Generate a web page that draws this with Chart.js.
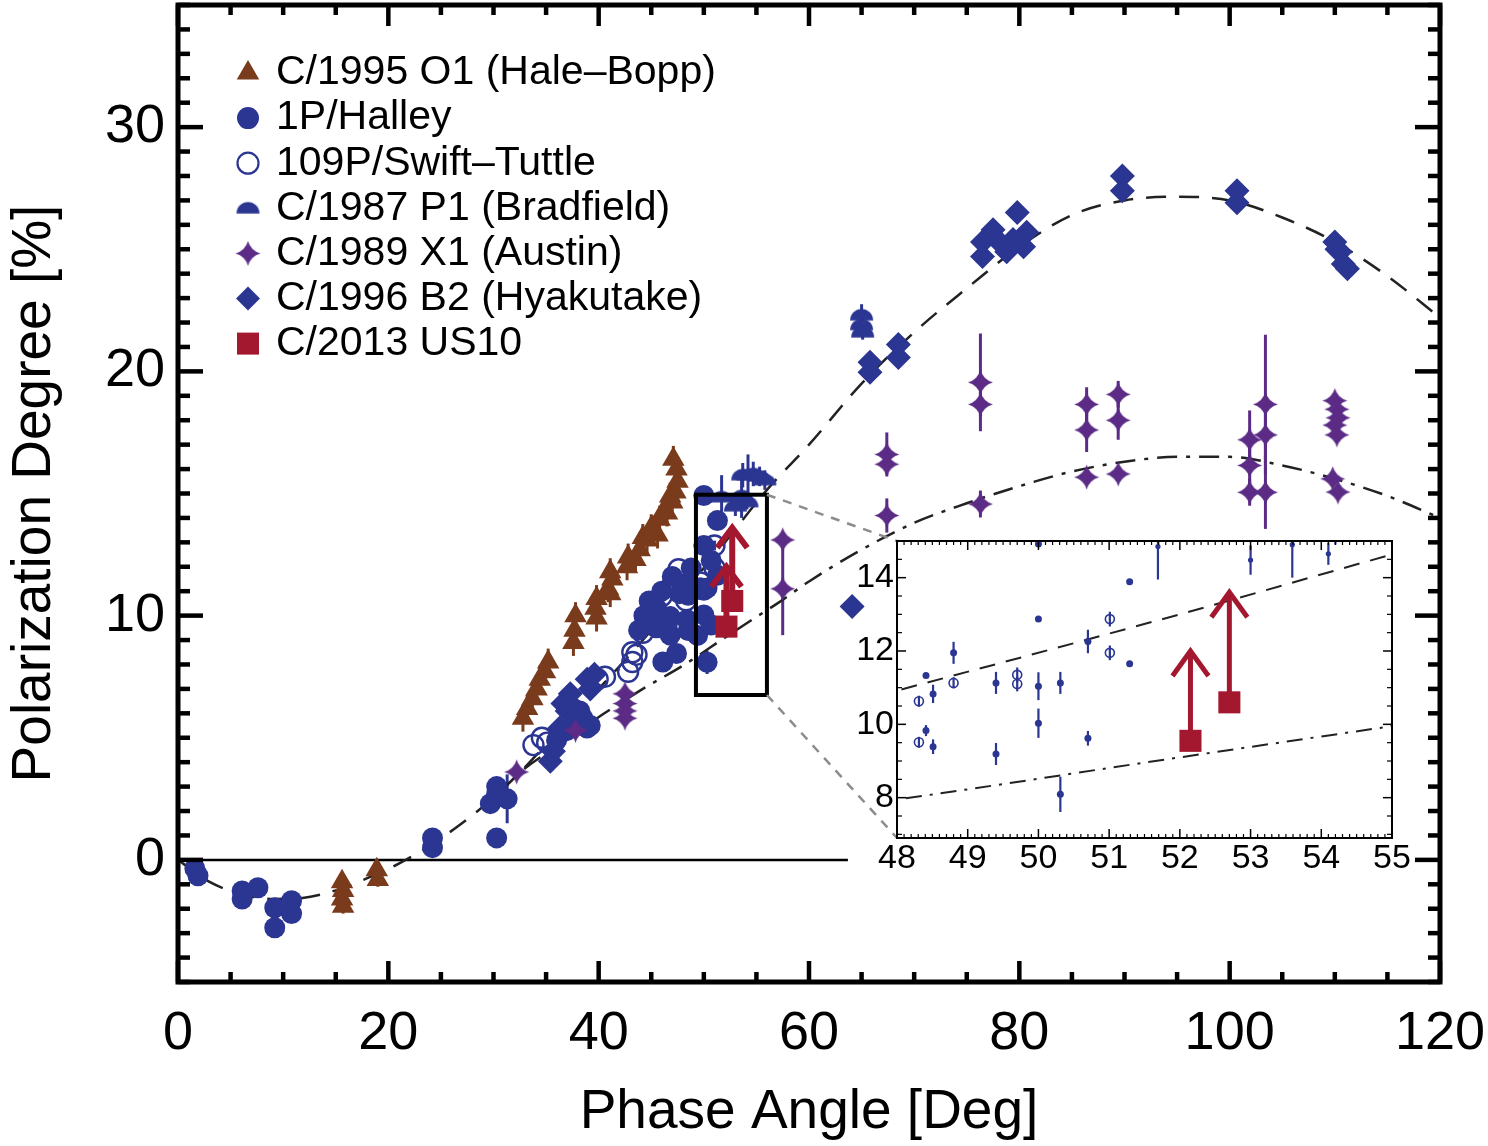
<!DOCTYPE html>
<html>
<head>
<meta charset="utf-8">
<title>Polarization Degree vs Phase Angle</title>
<script src="https://cdn.jsdelivr.net/npm/chart.js@4.4.1/dist/chart.umd.min.js"></script>
<style>
  html, body { margin:0; padding:0; background:#fff; }
  #wrap { position:relative; width:1488px; height:1146px; overflow:hidden; background:#fff; }
  #mainChart { position:absolute; left:0; top:0; }
  #insetChart { position:absolute; left:830px; top:520px; }
</style>
</head>
<body>
<div id="wrap">
  <canvas id="mainChart" width="1488" height="1146"></canvas>
  <canvas id="insetChart" width="600" height="380"></canvas>
</div>
<script>
// ------------------------------------------------------------------ DATA
const xTicksMain  = [0, 20, 40, 60, 80, 100, 120];
const yTicksMain  = [0, 10, 20, 30];
const xTicksInset = [48, 49, 50, 51, 52, 53, 54, 55];
const yTicksInset = [8, 10, 12, 14];

const seriesLabels = ['C/1995 O1 (Hale\u2013Bopp)', '1P/Halley', '109P/Swift\u2013Tuttle',
  'C/1987 P1 (Bradfield)', 'C/1989 X1 (Austin)', 'C/1996 B2 (Hyakutake)', 'C/2013 US10'];

const haleBoppX = [15.6,15.7,15.6,15.7,18.9,19.0,32.8,33.2,33.7,34.1,34.4,34.9,35.2,37.6,37.7,37.8,
  39.7,39.8,39.8,40.9,41.1,41.3,41.1,42.7,42.8,43.5,43.9,44.2,44.6,45.0,45.2,45.6,45.8,46.2,46.5,46.8,47.0,47.3,47.5,47.4,47.1];
const haleBoppY = [-0.9,-1.25,-1.6,-1.9,-0.4,-0.8,5.8,6.2,6.6,7.0,7.4,7.7,8.1,8.9,9.4,10.0,
  10.3,9.9,10.7,11.1,10.9,11.5,11.8,12.0,12.4,12.3,12.7,13.2,13.1,13.6,13.55,13.3,13.95,14.3,14.2,14.9,14.65,15.06,15.5,16.0,16.4];
const haleBoppErr = [0.3,0.3,0.3,0.3,0.3,0.3,0.55,0.55,0.55,0.55,0.55,0.55,0.55,0.55,0.55,0.55,
  0.55,0.55,0.55,0.55,0.55,0.55,0.55,0.55,0.55,0.55,0.55,0.55,0.55,0.55,0.55,0.55,0.55,0.55,0.55,0.55,0.55,0.55,0.55,0.55,0.55];

const halleyX = [1.6,1.9,6.1,7.6,6.1,9.2,10.8,10.8,9.2,24.2,24.2,30.3,30.3,29.7,31.3,30.3,
  36.0,37.0,37.6,38.0,38.2,38.5,38.9,39.2,43.8,44.3,44.8,45.5,45.5,46.0,46.1,46.8,46.8,47.0,47.4,47.7,
  50.0,51.29,48.41,50.0,51.29,48.51,48.80,48.41,48.51,49.40,49.40,50.0,50.0,50.31,50.31,50.70,50.70];
const halleyY = [-0.35,-0.65,-1.27,-1.14,-1.6,-1.96,-1.67,-2.2,-2.78,0.9,0.5,0.9,2.7,2.3,2.5,3.0,
  4.9,5.3,6.2,5.6,6.1,5.8,5.4,5.5,9.4,10.0,10.6,10.3,9.5,11.0,8.1,9.96,9.2,11.6,8.45,10.9,
  14.92,13.89,11.33,12.87,11.65,10.83,11.95,9.83,9.39,11.13,9.19,11.04,10.03,11.13,8.09,12.26,9.62];
const halleyErr = [0,0,0,0,0,0,0,0,0,0,0,0,0,0,1.0,0,
  0,0,0,0,0,0,0,0,0,0,0,0,0,0,0,0,0,0,0,0,
  0,0,0,0,0,0.25,0.3,0.15,0.2,0.3,0.3,0.38,0.4,0.3,0.48,0.32,0.2];

const swiftX = [33.8,34.6,35.1,39.9,40.6,42.8,43.2,43.6,43.2,44.2,44.6,46.0,47.1,47.6,48.31,48.31,48.8,49.7,49.7,51.01,51.01];
const swiftY = [4.7,5.0,4.8,7.4,7.5,7.7,8.1,8.4,8.5,9.3,9.75,10.8,11.4,11.9,10.63,9.51,11.13,11.35,11.1,12.87,11.95];
const swiftErr = [0,0,0,0,0,0,0,0,0,0,0,0,0,0,0.15,0.15,0.15,0.2,0.2,0.2,0.2];

const bradfieldX = [65.0,65.0,65.1,53.7,54.2,54.7,55.3,55.8,54.1,51.69,53.0,53.59];
const bradfieldY = [22.3,21.9,21.6,15.75,15.75,15.8,15.7,15.55,14.65,14.85,14.48,14.9];
const bradfieldErr = [0.45,0.4,0.3,0.5,0.85,0.5,0.4,0.4,0.3,0.9,0.4,0.9];

const austinX = [32.2,37.8,42.5,42.5,42.5,42.5,57.5,57.5,67.4,67.4,67.4,76.3,76.3,76.3,86.4,86.4,86.4,
  89.4,89.4,89.4,101.9,101.9,101.9,103.4,103.4,103.4,110.0,110.2,110.3,110.0,110.2,109.8,110.3];
const austinY = [3.6,5.3,6.8,6.4,6.1,5.8,13.1,11.1,16.6,16.2,14.1,19.55,18.65,14.57,18.65,17.6,15.67,
  19.06,18.0,15.8,17.2,16.15,15.05,18.65,17.4,15.05,18.8,18.45,18.1,17.8,17.4,15.6,15.06];
const austinErr = [0.2,0.3,0.3,0.3,0.3,0.3,0.3,1.9,0.9,0.4,0.7,2.0,0.5,0.55,0.7,0.9,0.25,
  0.55,0.8,0.25,1.2,1.0,0.55,2.85,1.0,1.5,0.3,0.3,0.3,0.3,0.3,0.25,0.25];

const hyakutakeX = [35.4,35.7,36.3,36.6,37.0,37.3,38.9,39.6,39.2,64.1,65.8,65.8,68.5,68.5,76.5,77.5,78.8,
  79.8,80.7,80.4,76.5,78.1,79.4,89.8,89.8,100.7,100.7,110.0,110.5,110.8,111.2,110.2];
const hyakutakeY = [4.04,4.45,5.4,6.4,6.1,6.8,7.4,7.6,7.0,10.37,19.96,20.37,21.1,20.57,25.3,25.8,24.9,
  26.5,25.7,25.1,24.7,25.3,25.4,28.0,27.4,27.4,26.9,25.3,24.9,24.4,24.2,25.0];

const us10X = [52.15, 52.7];
const us10Y = [9.55, 10.6];
const us10Lim = [12.0, 13.6];

const fitDashX = [0,3,6,9,12,15,18,21,24,27,30,33,36,40,44,48,52,56,60,65,70,75,80,85,90,95,100,105,110,115,120];
const fitDashY = [0,-0.9,-1.4,-1.6,-1.55,-1.25,-0.75,-0.15,0.6,1.5,2.55,3.8,5.2,7.0,8.9,10.92,13.0,15.15,17.0,19.5,
  21.6,23.4,25.1,26.4,27.0,27.15,27.0,26.3,25.3,23.9,22.2];
const fitDotX = [30,33,36.8,40.4,44.2,48,52,55,57,60,65,70,75,80,85,90,95,100,105,110,115,120];
const fitDotY = [2.55,3.75,4.86,5.96,7.0,7.95,9.1,9.95,10.5,11.4,12.7,13.8,14.6,15.3,15.9,16.3,16.5,16.5,16.15,15.6,14.9,14.0];

const zeroLineX = [0, 63.7];
const zeroLineY = [0, 0];

const zoomBoxX = [49.25, 56.0];
const zoomBoxY = [6.75, 14.95];

// ------------------------------------------------------------------ STYLE
const FONT = "'Liberation Sans', Arial, Helvetica, sans-serif";
Chart.defaults.font.family = FONT;
Chart.defaults.color = '#000';
const NAVY = '#2b3592', BROWN = '#7a3b1d', PURPLE = '#5b2b86', RED = '#a3182f', CURVE = '#222';
const INSET_LEFT = 830, INSET_TOP = 520;

function pts(xs, ys) { return xs.map((x, i) => ({ x: x, y: ys[i] })); }

function starImage(r, color) {
  const s = Math.ceil(2 * r + 2), c = document.createElement('canvas');
  c.width = s; c.height = s;
  const g = c.getContext('2d'), m = s / 2, k = r * 0.22;
  g.fillStyle = color; g.beginPath();
  g.moveTo(m, m - r);
  g.quadraticCurveTo(m + k, m - k, m + r, m);
  g.quadraticCurveTo(m + k, m + k, m, m + r);
  g.quadraticCurveTo(m - k, m + k, m - r, m);
  g.quadraticCurveTo(m - k, m - k, m, m - r);
  g.closePath(); g.fill();
  return c;
}
function domeImage(r, color) {
  const w = Math.ceil(2 * r + 2), c = document.createElement('canvas');
  c.width = w; c.height = w;
  const g = c.getContext('2d');
  g.fillStyle = color; g.beginPath();
  g.arc(w / 2, w / 2 + r * 0.45, r, Math.PI, 2 * Math.PI);
  g.closePath(); g.fill();
  return c;
}
const starMain = starImage(12.5, PURPLE);
const domeMain = domeImage(11.5, NAVY);

// ------------------------------------------------------------------ PLUGINS
const errorBars = {
  id: 'errorBars',
  beforeDatasetsDraw(chart, args, o) {
    const { ctx, chartArea: a, scales: { x, y } } = chart;
    ctx.save();
    ctx.beginPath(); ctx.rect(a.left, a.top, a.right - a.left, a.bottom - a.top); ctx.clip();
    chart.data.datasets.forEach(ds => {
      if (!ds.errors) return;
      ctx.strokeStyle = ds.errColor || ds.borderColor;
      ctx.lineWidth = o.width;
      ds.data.forEach((p, j) => {
        const e = ds.errors[j];
        if (!e) return;
        const px = x.getPixelForValue(p.x);
        ctx.beginPath();
        ctx.moveTo(px, y.getPixelForValue(p.y - e));
        ctx.lineTo(px, y.getPixelForValue(p.y + e));
        ctx.stroke();
      });
    });
    ctx.restore();
  }
};

const limitArrows = {
  id: 'limitArrows',
  beforeDatasetDraw(chart, args, o) {
    const ds = chart.data.datasets[args.index];
    if (!ds.arrowTo) return;
    const { ctx, scales: { x, y } } = chart;
    ctx.save();
    ctx.strokeStyle = ds.backgroundColor; ctx.lineWidth = o.width;
    ctx.lineCap = 'butt'; ctx.lineJoin = 'miter';
    ds.data.forEach((p, i) => {
      const px = x.getPixelForValue(p.x), py0 = y.getPixelForValue(p.y), py1 = y.getPixelForValue(ds.arrowTo[i]);
      ctx.beginPath(); ctx.moveTo(px, py0); ctx.lineTo(px, py1 + 2); ctx.stroke();
      ctx.beginPath(); ctx.moveTo(px - o.headW, py1 + o.headH); ctx.lineTo(px, py1); ctx.lineTo(px + o.headW, py1 + o.headH); ctx.stroke();
    });
    ctx.restore();
  }
};

const frameTicks = {
  id: 'frameTicks',
  afterDatasetsDraw(chart, args, o) {
    const { ctx, chartArea: a, scales: { x, y } } = chart;
    ctx.save(); ctx.strokeStyle = '#000'; ctx.lineCap = 'butt';
    const seg = (x1, y1, x2, y2) => { ctx.beginPath(); ctx.moveTo(x1, y1); ctx.lineTo(x2, y2); ctx.stroke(); };
    const majX = x.ticks.map(t => t.value), majY = y.ticks.map(t => t.value);
    const isMaj = (arr, v) => arr.some(m => Math.abs(m - v) < 1e-6);
    let start = Math.ceil(x.min / o.xMinor - 1e-9), end = Math.floor(x.max / o.xMinor + 1e-9);
    for (let i = start; i <= end; i++) {
      const v = i * o.xMinor, maj = isMaj(majX, v);
      ctx.lineWidth = maj ? o.majorWidth : o.minorWidth;
      const L = maj ? o.xMajorLen : o.xMinorLen, p = x.getPixelForValue(v);
      seg(p, a.bottom, p, a.bottom - L); seg(p, a.top, p, a.top + L);
    }
    start = Math.ceil(y.min / o.yMinor - 1e-9); end = Math.floor(y.max / o.yMinor + 1e-9);
    for (let i = start; i <= end; i++) {
      const v = i * o.yMinor, maj = isMaj(majY, v);
      ctx.lineWidth = maj ? o.majorWidth : o.minorWidth;
      const L = maj ? o.yMajorLen : o.yMinorLen, p = y.getPixelForValue(v);
      seg(a.left, p, a.left + L, p); seg(a.right, p, a.right - L, p);
    }
    ctx.lineWidth = o.borderWidth; ctx.lineJoin = 'miter';
    ctx.strokeRect(a.left, a.top, a.right - a.left, a.bottom - a.top);
    ctx.restore();
  }
};

const whiteArea = {
  id: 'whiteArea',
  beforeDraw(chart) {
    const { ctx, chartArea: a } = chart;
    ctx.save(); ctx.fillStyle = '#fff'; ctx.fillRect(a.left, a.top, a.right - a.left, a.bottom - a.top); ctx.restore();
  }
};

let insetChart = null;
const zoomLink = {
  id: 'zoomLink',
  afterDatasetsDraw(chart) {
    const { ctx, scales: { x, y } } = chart;
    const l = x.getPixelForValue(zoomBoxX[0]), r = x.getPixelForValue(zoomBoxX[1]);
    const t = y.getPixelForValue(zoomBoxY[1]), b = y.getPixelForValue(zoomBoxY[0]);
    ctx.save();
    ctx.strokeStyle = '#000'; ctx.lineWidth = 4; ctx.strokeRect(l, t, r - l, b - t);
    if (insetChart) {
      const a = insetChart.chartArea;
      ctx.setLineDash([9, 8]); ctx.strokeStyle = '#8c8c8c'; ctx.lineWidth = 2.5;
      ctx.beginPath(); ctx.moveTo(r, t); ctx.lineTo(INSET_LEFT + a.left, INSET_TOP + a.top); ctx.stroke();
      ctx.beginPath(); ctx.moveTo(r, b); ctx.lineTo(INSET_LEFT + a.left, INSET_TOP + a.bottom); ctx.stroke();
    }
    ctx.restore();
  }
};

const legendStyles = [
  { shape: 'triangle', color: BROWN }, { shape: 'circle', color: NAVY }, { shape: 'ring', color: NAVY },
  { shape: 'dome', color: NAVY }, { shape: 'star', color: PURPLE }, { shape: 'diamond', color: NAVY },
  { shape: 'square', color: RED }
];
function drawMarker(ctx, shape, x, y, color) {
  ctx.save(); ctx.fillStyle = color; ctx.strokeStyle = color; ctx.beginPath();
  if (shape === 'triangle') {
    const r = 13; ctx.moveTo(x, y - r); ctx.lineTo(x + r * 0.866, y + r / 2); ctx.lineTo(x - r * 0.866, y + r / 2); ctx.closePath(); ctx.fill();
  } else if (shape === 'circle') {
    ctx.arc(x, y, 11, 0, 2 * Math.PI); ctx.fill();
  } else if (shape === 'ring') {
    ctx.lineWidth = 2.2; ctx.arc(x, y, 10.5, 0, 2 * Math.PI); ctx.stroke();
  } else if (shape === 'dome') {
    ctx.drawImage(domeMain, x - domeMain.width / 2, y - domeMain.height / 2);
  } else if (shape === 'star') {
    ctx.drawImage(starMain, x - starMain.width / 2, y - starMain.height / 2);
  } else if (shape === 'diamond') {
    const r = 12; ctx.moveTo(x, y - r); ctx.lineTo(x + r, y); ctx.lineTo(x, y + r); ctx.lineTo(x - r, y); ctx.closePath(); ctx.fill();
  } else if (shape === 'square') {
    ctx.fillRect(x - 11, y - 11, 22, 22);
  }
  ctx.restore();
}
const legendBox = {
  id: 'legendBox',
  afterDraw(chart, args, o) {
    const ctx = chart.ctx;
    ctx.save();
    ctx.font = o.fontSize + 'px ' + FONT; ctx.textBaseline = 'middle'; ctx.textAlign = 'left';
    seriesLabels.forEach((lab, i) => {
      const y = o.y0 + i * o.dy;
      drawMarker(ctx, legendStyles[i].shape, o.mx, y, legendStyles[i].color);
      ctx.fillStyle = '#000'; ctx.fillText(lab, o.tx, y);
    });
    ctx.restore();
  }
};

// ------------------------------------------------------------------ INSET CHART
insetChart = new Chart(document.getElementById('insetChart'), {
  type: 'scatter',
  data: {
    datasets: [
      { label: seriesLabels[6], data: pts(us10X, us10Y), arrowTo: us10Lim, pointStyle: 'rect', pointRadius: 15.6,
        backgroundColor: RED, borderColor: RED, borderWidth: 0, order: 0, clip: 0 },
      { label: seriesLabels[3], data: pts(bradfieldX, bradfieldY), errors: bradfieldErr, pointStyle: 'circle', pointRadius: 2.6,
        backgroundColor: NAVY, borderColor: NAVY, borderWidth: 0, order: 3, clip: 0 },
      { label: seriesLabels[1], data: pts(halleyX, halleyY), errors: halleyErr, pointStyle: 'circle', pointRadius: 3.5,
        backgroundColor: NAVY, borderColor: NAVY, borderWidth: 0, order: 4, clip: 0 },
      { label: seriesLabels[2], data: pts(swiftX, swiftY), errors: swiftErr, pointStyle: 'circle', pointRadius: 4.5,
        backgroundColor: 'rgba(255,255,255,0)', borderColor: NAVY, borderWidth: 1.6, order: 5, clip: 0 },
      { label: 'fit A', data: pts(fitDashX, fitDashY), showLine: true, pointRadius: 0, borderColor: CURVE, borderWidth: 2,
        borderDash: [16, 11], cubicInterpolationMode: 'monotone', order: 10, clip: 0 },
      { label: 'fit B', data: pts(fitDotX, fitDotY), showLine: true, pointRadius: 0, borderColor: CURVE, borderWidth: 2,
        borderDash: [16, 8, 3, 8], cubicInterpolationMode: 'monotone', order: 10, clip: 0 }
    ]
  },
  options: {
    responsive: false, animation: false, devicePixelRatio: 1, events: [],
    layout: { autoPadding: false, padding: { top: 21, right: 38, bottom: 0, left: 0 } },
    plugins: {
      legend: { display: false }, tooltip: { enabled: false },
      errorBars: { width: 2.2 },
      limitArrows: { width: 5, headW: 18, headH: 25 },
      frameTicks: { xMinor: 0.1, yMinor: 0.5, xMajorLen: 9, xMinorLen: 4, yMajorLen: 9, yMinorLen: 5,
        majorWidth: 1.5, minorWidth: 1.2, borderWidth: 2 }
    },
    scales: {
      x: {
        type: 'linear', position: 'bottom', min: 48, max: 55,
        grid: { display: false, drawTicks: false }, border: { display: false },
        afterBuildTicks: s => { s.ticks = xTicksInset.map(v => ({ value: v })); },
        afterFit: s => { s.height = 62; s.paddingLeft = 0; s.paddingRight = 0; },
        ticks: { autoSkip: false, maxRotation: 0, padding: 0, font: { size: 34 }, color: '#000' }
      },
      y: {
        type: 'linear', position: 'left', min: 6.9, max: 15,
        grid: { display: false, drawTicks: false }, border: { display: false },
        afterBuildTicks: s => { s.ticks = yTicksInset.map(v => ({ value: v })); },
        afterFit: s => { s.width = 67; s.paddingTop = 0; s.paddingBottom = 0; },
        ticks: { autoSkip: false, padding: 3, font: { size: 34 }, color: '#000' }
      }
    }
  },
  plugins: [whiteArea, errorBars, limitArrows, frameTicks]
});

// ------------------------------------------------------------------ MAIN CHART
new Chart(document.getElementById('mainChart'), {
  type: 'scatter',
  data: {
    datasets: [
      { label: seriesLabels[6], data: pts(us10X, us10Y), arrowTo: us10Lim, pointStyle: 'rect', pointRadius: 15.6,
        backgroundColor: RED, borderColor: RED, borderWidth: 0, order: 0 },
      { label: seriesLabels[4], data: pts(austinX, austinY), errors: austinErr, pointStyle: starMain, pointRadius: 12,
        backgroundColor: PURPLE, borderColor: PURPLE, borderWidth: 0, order: 1 },
      { label: seriesLabels[0], data: pts(haleBoppX, haleBoppY), errors: haleBoppErr, pointStyle: 'triangle', pointRadius: 13,
        backgroundColor: BROWN, borderColor: BROWN, borderWidth: 0, order: 2 },
      { label: seriesLabels[3], data: pts(bradfieldX, bradfieldY), errors: bradfieldErr, pointStyle: domeMain, pointRadius: 11,
        backgroundColor: NAVY, borderColor: NAVY, borderWidth: 0, order: 3 },
      { label: seriesLabels[1], data: pts(halleyX, halleyY), errors: halleyErr, pointStyle: 'circle', pointRadius: 10.5,
        backgroundColor: NAVY, borderColor: NAVY, borderWidth: 0, order: 4 },
      { label: seriesLabels[2], data: pts(swiftX, swiftY), errors: swiftErr, pointStyle: 'circle', pointRadius: 10,
        backgroundColor: 'rgba(255,255,255,0)', borderColor: NAVY, borderWidth: 2.4, order: 5 },
      { label: seriesLabels[5], data: pts(hyakutakeX, hyakutakeY), pointStyle: 'rectRot', pointRadius: 12.5,
        backgroundColor: NAVY, borderColor: NAVY, borderWidth: 0, order: 6 },
      { label: 'fit A', data: pts(fitDashX, fitDashY), showLine: true, pointRadius: 0, borderColor: CURVE, borderWidth: 2.5,
        borderDash: [20, 13], cubicInterpolationMode: 'monotone', order: 10 },
      { label: 'fit B', data: pts(fitDotX, fitDotY), showLine: true, pointRadius: 0, borderColor: CURVE, borderWidth: 2.5,
        borderDash: [20, 9, 4, 9], cubicInterpolationMode: 'monotone', order: 10 },
      { label: 'zero', data: pts(zeroLineX, zeroLineY), showLine: true, pointRadius: 0, borderColor: '#000', borderWidth: 2.5,
        order: 12 }
    ]
  },
  options: {
    responsive: false, animation: false, devicePixelRatio: 1, events: [],
    layout: { autoPadding: false, padding: { top: 5, right: 48, bottom: 0, left: 0 } },
    plugins: {
      legend: { display: false }, tooltip: { enabled: false },
      errorBars: { width: 3 },
      limitArrows: { width: 6, headW: 15, headH: 20 },
      frameTicks: { xMinor: 5, yMinor: 1, xMajorLen: 21, xMinorLen: 10, yMajorLen: 25, yMinorLen: 12,
        majorWidth: 4.5, minorWidth: 4.5, borderWidth: 5 },
      legendBox: { mx: 248, tx: 276, y0: 73, dy: 45.1, fontSize: 41 }
    },
    scales: {
      x: {
        type: 'linear', position: 'bottom', min: 0, max: 120,
        grid: { display: false, drawTicks: false }, border: { display: false },
        afterBuildTicks: s => { s.ticks = xTicksMain.map(v => ({ value: v })); },
        afterFit: s => { s.height = 164; s.paddingLeft = 0; s.paddingRight = 0; },
        ticks: { autoSkip: false, maxRotation: 0, padding: 20, font: { size: 54 }, color: '#000' },
        title: { display: true, text: 'Phase Angle [Deg]', font: { size: 55 }, color: '#000', padding: { top: 0, bottom: 0 } }
      },
      y: {
        type: 'linear', position: 'left', min: -5, max: 35,
        grid: { display: false, drawTicks: false }, border: { display: false },
        afterBuildTicks: s => { s.ticks = yTicksMain.map(v => ({ value: v })); },
        afterFit: s => { s.width = 178; s.paddingTop = 0; s.paddingBottom = 0; },
        ticks: { autoSkip: false, padding: 13, font: { size: 54 }, color: '#000' },
        title: { display: true, text: 'Polarization Degree [%]', font: { size: 55 }, color: '#000', padding: { top: 2, bottom: 0 } }
      }
    }
  },
  plugins: [errorBars, limitArrows, zoomLink, frameTicks, legendBox]
});
</script>
</body>
</html>
